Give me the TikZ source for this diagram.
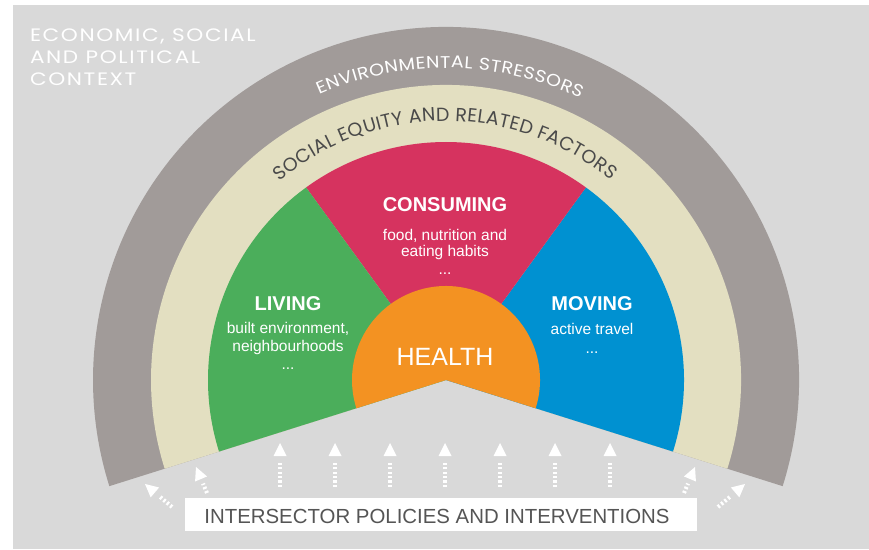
\documentclass[tikz,border=0pt]{standalone}
\usepackage{fontspec}
\setmainfont{Liberation Sans}
\newfontfamily\envfont[FakeStretch=1.12]{Poppins}
\newfontfamily\socfont{Poppins}
\newfontfamily\ctxfont[LetterSpace=9,FakeStretch=1.2]{Poppins}
\usetikzlibrary{calc,decorations.text}

\definecolor{bgray}{HTML}{D9D9D9}
\definecolor{bandgray}{HTML}{A19B99}
\definecolor{beige}{HTML}{E3DFC1}
\definecolor{livgreen}{HTML}{4BAE5B}
\definecolor{conred}{HTML}{D6335F}
\definecolor{movblue}{HTML}{0091D1}
\definecolor{healthor}{HTML}{F39222}
\definecolor{darktext}{HTML}{555555}
\definecolor{arctext}{HTML}{4A4A4A}

\newcommand{\polarrow}[3]{%
  \coordinate (#1t) at #2;
  \coordinate (#1h) at #3;
  \coordinate (#1b) at ($(#1h)!13pt!(#1t)$);
  \draw[arrshaft] (#1t) -- (#1b);
  \fill[white] (#1h) -- ($(#1b)!6.5pt!90:(#1h)$) -- ($(#1b)!6.5pt!-90:(#1h)$) -- cycle;
}

\begin{document}
\begin{tikzpicture}[x=1pt,y=1pt,
  every node/.style={inner sep=0pt, outer sep=0pt},
  ctx/.style={anchor=base west, text=white, font=\ctxfont\fontsize{18}{18}\selectfont},
  sectitle/.style={anchor=base, text=white, font=\bfseries\fontsize{20}{20}\selectfont},
  secsub/.style={anchor=base, text=white, font=\fontsize{15.5}{15.5}\selectfont},
  arrshaft/.style={white, line width=4pt, dash pattern=on 2.2pt off 2.2pt, shorten >=5pt}
]
\useasboundingbox (0,0) rectangle (869,549);
\fill[bgray] (13,0) rectangle (869,544);

\coordinate (C) at (446,169);

% bands and sectors
\fill[bandgray] (C) -- ++(-17.5:353pt) arc[start angle=-17.5,end angle=197.5,radius=353pt] -- cycle;
\fill[beige] (C) -- ++(-17.5:295pt) arc[start angle=-17.5,end angle=197.5,radius=295pt] -- cycle;
\fill[movblue] (C) -- ++(-17.5:238pt) arc[start angle=-17.5,end angle=54,radius=238pt] -- cycle;
\fill[conred] (C) -- ++(54:238pt) arc[start angle=54,end angle=126,radius=238pt] -- cycle;
\fill[livgreen] (C) -- ++(126:238pt) arc[start angle=126,end angle=197.5,radius=238pt] -- cycle;
\fill[healthor] (C) -- ++(-17.5:94pt) arc[start angle=-17.5,end angle=197.5,radius=94pt] -- cycle;

% arc texts
\path[decorate, decoration={text along path, text align={fit to path}, text color=white,
  text={|\envfont\fontsize{17}{17}\selectfont|ENVIRONMENTAL STRESSORS}}]
  (C) ++(114:312pt) arc[start angle=114,end angle=64.5,radius=312pt];
\path[decorate, decoration={text along path, text align={fit to path}, text color=arctext,
  text={|\socfont\fontsize{19}{19}\selectfont|SOCIAL EQUITY AND RELATED FACTORS}}]
  (C) ++(130:259pt) arc[start angle=130,end angle=50.5,radius=259pt];

% context
\node[ctx] (ctx1) at (30,507) {ECONOMIC, SOCIAL};
\node[ctx] (ctx2) at (30,485) {AND POLITICAL};
\node[ctx] (ctx3) at (30,463) {CONTEXT};

% consuming
\node[sectitle] (cons) at (445,337) {CONSUMING};
\node[secsub] (cons1) at (445,308) {food, nutrition and};
\node[secsub] (cons2) at (445,292) {eating habits};
\node[secsub] (cons3) at (445,274) {...};

% living
\node[sectitle] (liv) at (288,238) {LIVING};
\node[secsub] (liv1) at (288,215) {built environment,};
\node[secsub] (liv2) at (288,197) {neighbourhoods};
\node[secsub] (liv3) at (288,179) {...};

% moving
\node[sectitle] (mov) at (592,238) {MOVING};
\node[secsub] (mov1) at (592,214) {active travel};
\node[secsub] (mov2) at (592,195) {...};

% health
\node[anchor=base, text=white, font=\fontsize{25}{25}\selectfont] (health) at (445,183) {HEALTH};

% bottom box
\node[fill=white, minimum width=512pt, minimum height=33pt] (box) at (441,34.5) {};
\node[anchor=base, text=darktext, font=\fontsize{20.4}{20.4}\selectfont] (boxtext) at (437,25.5) {INTERSECTOR POLICIES AND INTERVENTIONS};

% arrows
\foreach \i/\xx in {1/280,2/335,3/390,4/445,5/500,6/555,7/610} {
  \polarrow{v\i}{(\xx,62)}{(\xx,106)}
}
\polarrow{lo}{(172,42)}{(145,65)}
\polarrow{li}{(207,56)}{(196,82)}
\polarrow{ri}{(684,56)}{(695,82)}
\polarrow{ro}{(718,42)}{(745,65)}
\end{tikzpicture}
\end{document}
